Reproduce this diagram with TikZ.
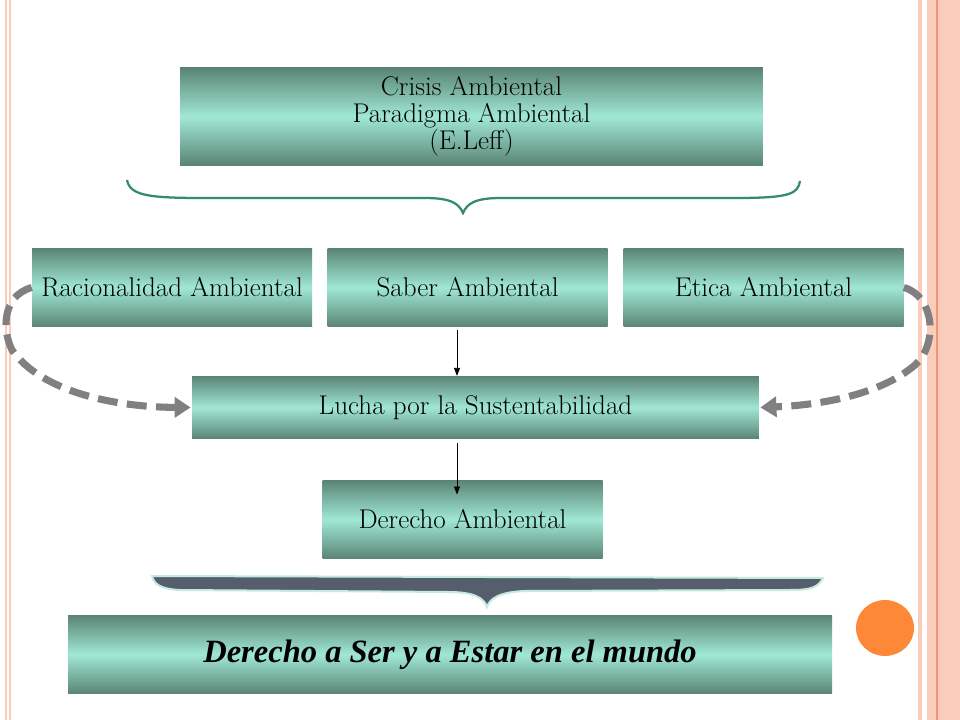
\documentclass[tikz,border=0pt]{standalone}
\usepackage{fontspec}
\newfontfamily\mundofont{Liberation Serif}
\usetikzlibrary{arrows.meta}
\definecolor{boxdark}{RGB}{90,132,117}
\definecolor{boxlight}{RGB}{160,232,212}
\definecolor{bracegreen}{RGB}{52,140,112}
\definecolor{braceslate}{RGB}{86,94,110}
\definecolor{bracemint}{RGB}{196,236,222}
\definecolor{dashgray}{RGB}{128,128,128}
\definecolor{rimpink}{RGB}{250,204,188}
\definecolor{rimorange}{RGB}{240,150,112}
\definecolor{dotorange}{RGB}{253,136,56}
\begin{document}
\begin{tikzpicture}[x=0.75pt,y=-0.75pt,
  greenbox/.style={rectangle,top color=boxdark,bottom color=boxdark,middle color=boxlight,
    inner sep=0pt,align=center,font=\fontsize{20.3}{20.3}\selectfont},
  smallbox/.style={greenbox,minimum width=210pt,minimum height=59pt},
  thinarrow/.style={-{Triangle[length=6pt,width=4.5pt]},black,line width=0.6pt},
  backarrow/.style={-{Triangle[length=12pt,width=15pt]},dashgray,line width=5.3pt,
    dash pattern=on 15pt off 7pt}]

\useasboundingbox (0,0) rectangle (960,720);
\fill[white] (0,0) rectangle (960,720);

% page rims
\fill[rimpink] (5,0) rectangle (7,720);
\fill[rimpink] (9,0) rectangle (11,720);
\fill[rimpink] (918,0) rectangle (922,720);
\fill[rimpink] (927,0) rectangle (960,720);
\fill[rimorange] (936,0) rectangle (937.5,720);

% boxes
\node[greenbox,minimum width=437pt,minimum height=73pt] (crisis) at (471.5,116.5)
  {Crisis Ambiental\\Paradigma Ambiental\\(E.Leff)};
\node[smallbox] (racional) at (172,287.5) {\raisebox{-2pt}{Racionalidad Ambiental}};
\node[smallbox] (saber) at (467.5,287.5) {\raisebox{-2pt}{Saber Ambiental}};
\node[smallbox] (etica) at (763.5,287.5) {\raisebox{-2pt}{Etica Ambiental}};
\node[greenbox,minimum width=425pt,minimum height=47pt] (lucha) at (475.5,407.5)
  {\raisebox{-2pt}{Lucha por la Sustentabilidad}};
\node[smallbox] (derecho) at (462.5,519.5) {\raisebox{-2pt}{Derecho Ambiental}};
\node[greenbox,minimum width=573pt,minimum height=59pt,
  font=\mundofont\fontsize{24.4}{26}\selectfont\bfseries\itshape] (mundo) at (450,654.5)
  {\raisebox{-4pt}{Derecho a Ser y a Estar en el mundo}};

% braces
\draw[bracegreen,line width=1.7pt] (127,180) .. controls (130,196) and (150,198) .. (205,198)
  -- (425,198) .. controls (452,198) and (459,204) .. (463,213)
  .. controls (467,204) and (474,198) .. (501,198) -- (735,198)
  .. controls (790,198) and (798,194) .. (800,181);
\draw[bracemint,line width=1.5pt,fill=braceslate] (152,576) -- (823,578)
  .. controls (818,588) and (810,590) .. (790,590) -- (525,591)
  .. controls (500,592) and (490,598) .. (487,607)
  .. controls (484,598) and (474,592) .. (449,592) -- (180,590)
  .. controls (160,589) and (154,584) .. cycle;

% connectors
\coordinate (axis) at (457,0);
\draw[thinarrow,shorten <=2pt] (saber.south -| axis) -- (lucha.north -| axis);
\draw[thinarrow,shorten <=3pt] (lucha.south -| axis) -- ([yshift=-11pt]derecho.north -| axis);
\draw[backarrow] (racional.west) .. controls (2,296) and (2,330) .. (12,350)
  .. controls (40,390) and (110,407) .. ([xshift=-1pt]lucha.west);
\draw[backarrow] (etica.east) .. controls (935,296) and (938,345) .. (915,365)
  .. controls (880,395) and (820,405) .. ([xshift=1pt]lucha.east);

% dot
\fill[dotorange] (885,628) ellipse (29 and 28);

\end{tikzpicture}
\end{document}
